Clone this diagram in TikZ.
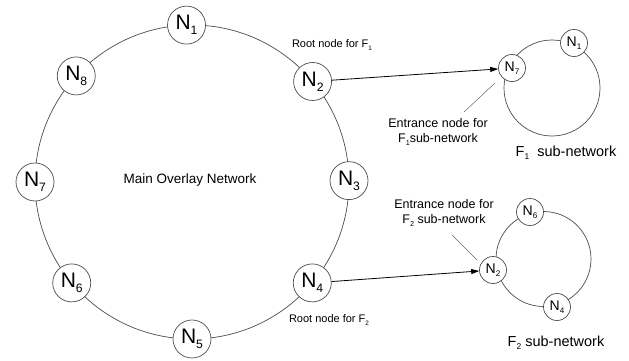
\documentclass[tikz,border=0pt]{standalone}
\usepackage{fontspec}
\setmainfont{Liberation Sans}
\usetikzlibrary{arrows.meta,calc}
\newcommand{\lsub}[1]{\raisebox{-0.24em}{\scalebox{0.58}{#1}}}
\begin{document}
\begin{tikzpicture}[x=1pt,y=1pt,
  ring/.style={draw=black!70, line width=0.7pt},
  bignode/.style={circle, draw=black!70, line width=0.7pt, fill=white, minimum size=38pt, inner sep=0pt, font=\fontsize{21}{24}\selectfont},
  smallnode/.style={circle, draw=black!70, line width=0.7pt, fill=white, minimum size=27pt, inner sep=0pt, font=\fontsize{14}{16}\selectfont},
  lbl/.style={font=\fontsize{11}{13}\selectfont, align=center, inner sep=0pt},
  entlbl/.style={font=\fontsize{12.5}{14.5}\selectfont, align=center, inner sep=0pt},
  biglbl/.style={font=\fontsize{14.5}{17}\selectfont, inner sep=0pt},
  pointer/.style={draw=black!60, line width=0.5pt},
  arr/.style={draw=black, line width=0.8pt, -{Triangle[length=8pt,width=5pt]}}
]
\useasboundingbox (0,0) rectangle (629,360);
% main ring
\coordinate (mc) at (192,178);
\draw[ring] (mc) circle[radius=157];
\node[bignode] (m1) at ($(mc)+(92:157)$) {N\lsub{1}};
\node[bignode] (m2) at ($(mc)+(39.8:157)$) {N\lsub{2}};
\node[bignode] (m3) at ($(mc)+(0.5:157)$) {N\lsub{3}};
\node[bignode] (m4) at ($(mc)+(-40:157)$) {N\lsub{4}};
\node[bignode] (m5) at ($(mc)+(-90:157)$) {N\lsub{5}};
\node[bignode] (m6) at ($(mc)+(-140:157)$) {N\lsub{6}};
\node[bignode] (m7) at ($(mc)+(180:157)$) {N\lsub{7}};
\node[bignode] (m8) at ($(mc)+(137.5:157)$) {N\lsub{8}};
\node[font=\fontsize{13.5}{16}\selectfont] (mlabel) at (190,180) {Main Overlay Network};
% F1 sub-network
\coordinate (fc) at (552,272);
\draw[ring] (fc) circle[radius=48];
\node[smallnode] (s7) at (512,292) {N\lsub{7}};
\node[smallnode] (s1) at (574,317) {N\lsub{1}};
\node[biglbl] (f1lbl) at (566,207) {F\lsub{1}\ \ sub-network};
% F2 sub-network
\coordinate (gc) at (543.5,101);
\draw[ring] (gc) circle[radius=47.5];
\node[smallnode] (t2) at (493,90) {N\lsub{2}};
\node[smallnode] (t6) at (530,148) {N\lsub{6}};
\node[smallnode] (t4) at (557,53) {N\lsub{4}};
\node[biglbl] (f2lbl) at (556,17) {F\lsub{2} sub-network};
% labels
\node[lbl] (root1) at (332,315) {Root node for F\lsub{1}};
\node[lbl] (root2) at (329,40) {Root node for F\lsub{2}};
\node[entlbl] (ent1) at (438,228) {Entrance node for\\F\lsub{1}sub-network};
\node[entlbl] (ent2) at (444,147) {Entrance node for\\F\lsub{2} sub-network};
% pointers
\coordinate (p1a) at (464,248);
\coordinate (p1b) at (495,277);
\draw[pointer] (p1a) -- (p1b);
\coordinate (p2a) at (452,125);
\coordinate (p2b) at (477,100);
\draw[pointer] (p2a) -- (p2b);
% arrows
\draw[arr] (m2) -- (s7);
\draw[arr] (m4) -- (t2);
\end{tikzpicture}
\end{document}
